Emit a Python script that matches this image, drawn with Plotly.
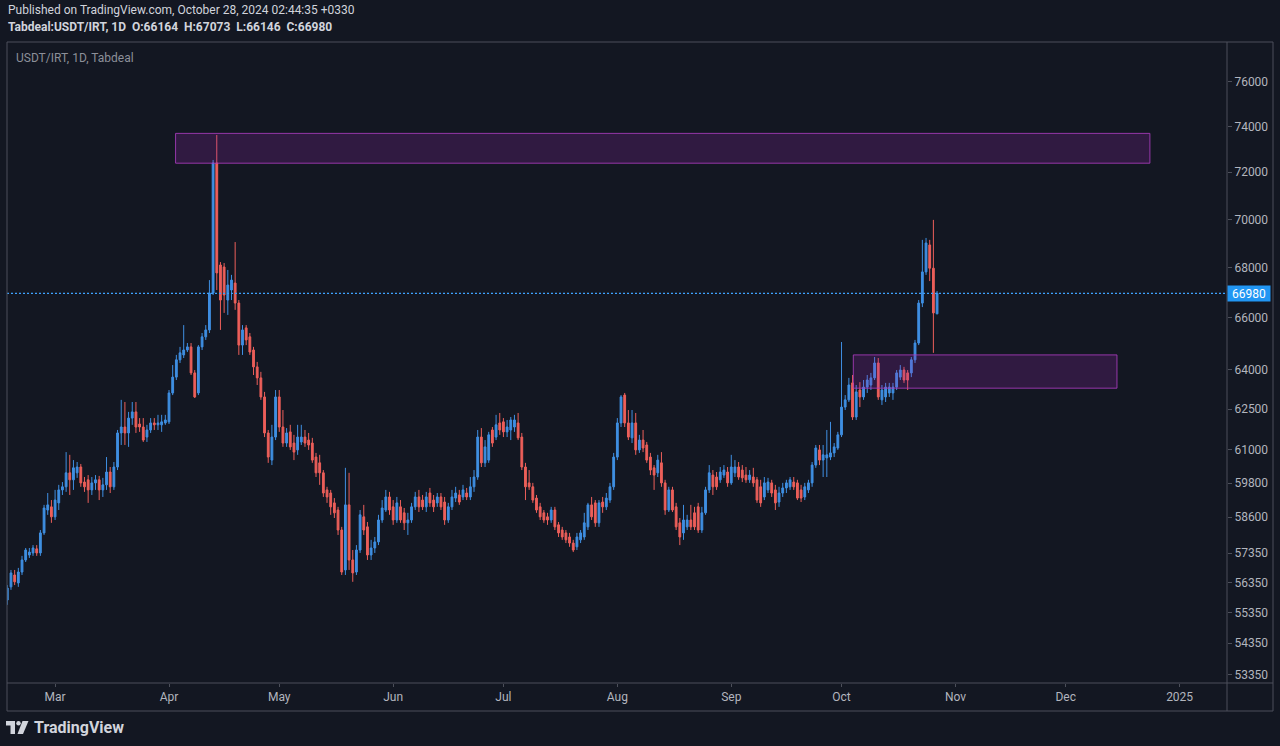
import math
import pandas as pd
import plotly.graph_objects as go

# ---------------- data (daily candles, Tabdeal USDT/IRT) ----------------
start_date = "2024-02-17"

opens = [
    55770, 56210, 56610, 56340, 56710, 57120, 57290, 57360, 57500, 57360,
    58050, 58850, 58960, 58610, 59100, 59560, 59670, 60170, 59920, 60170,
    60380, 59840, 59920, 59560, 59810, 59920, 59560, 59740, 60200, 59670,
    60380, 61620, 61840, 61620, 62170, 62400, 61950, 61840, 61470, 61730,
    61990, 61920, 61920, 61990, 62030, 63110, 63710, 64370, 64560, 64750,
    64870, 63870, 63110, 64870, 65260, 65530, 66990, 72400, 68120, 68040,
    66710, 67110, 67390, 66590, 64940, 65610, 65260, 64750, 64100, 63680,
    62960, 61620, 60630, 61470, 62960, 61840, 61250, 61660, 61250, 61000,
    61290, 61470, 61360, 61250, 60740, 60530, 60170, 59560, 59450, 59100,
    58850, 58150, 56780, 59030, 57120, 56710, 57460, 58610, 58260, 57290,
    57530, 57740, 58500, 58850, 59310, 58960, 58500, 58960, 58750, 58400,
    58500, 58960, 59310, 59200, 58960, 59450, 59200, 59100, 59310, 59130,
    58500, 58960, 59270, 59380, 59310, 59450, 59310, 59670, 60020, 61470,
    60530, 60630, 61730, 61470, 61990, 62030, 61660, 61730, 61840, 61990,
    61470, 60380, 59810, 59670, 59270, 58960, 58750, 58610, 58500, 58850,
    58330, 58150, 58050, 57910, 57700, 57570, 57810, 57910, 58260, 59030,
    59100, 58400, 59130, 58960, 59200, 59670, 60740, 61990, 63030, 61990,
    61440, 61990, 61000, 61360, 61180, 60740, 60350, 60170, 60530, 59810,
    58850, 59560, 58960, 58400, 58050, 58260, 58500, 58750, 58960, 58150,
    58750, 59560, 60090, 60020, 59920, 60090, 60200, 59810, 60170, 60380,
    60270, 60090, 59920, 60020, 59920, 59670, 59310, 59560, 59810, 59560,
    59130, 59450, 59630, 59670, 59840, 59810, 59560, 59310, 59560, 59810,
    60450, 61000, 60630, 60710, 60740, 60890, 61070, 61550, 62580, 62850,
    63490, 62210, 63220, 62960, 63330, 63410, 63680, 64250, 62850, 62960,
    63110, 63110, 63330, 63710, 63980, 63870, 63870, 64370, 65020, 66590,
    67840, 68940, 67990, 66164,
]

highs = [
    56270, 56780, 56780, 56850, 57260, 57530, 57530, 57630, 57630, 58150,
    59030, 59450, 59200, 59560, 59740, 59840, 60920, 60820, 60630, 60560,
    60490, 60020, 60090, 60020, 60090, 60060, 59990, 60740, 60380, 60560,
    61730, 62850, 62770, 62400, 62770, 62770, 62170, 62170, 61920, 62170,
    62170, 62290, 62290, 62290, 63220, 64170, 64560, 64870, 65720, 65020,
    65020, 63980, 64940, 65410, 65720, 67510, 72530, 73620, 68240, 68200,
    67920, 67720, 69060, 66710, 65720, 65720, 65410, 64870, 64290, 63910,
    63150, 61730, 61920, 63220, 63220, 62470, 61800, 61920, 61550, 61920,
    61920, 61730, 61620, 61440, 60890, 60820, 60270, 59670, 59560, 59270,
    58960, 58260, 60350, 60170, 57460, 57630, 58850, 59030, 58430, 57810,
    57910, 58680, 59200, 59560, 59490, 59200, 59310, 59200, 58920, 58750,
    59100, 59490, 59560, 59380, 59490, 59630, 59380, 59450, 59450, 59310,
    59100, 59560, 59670, 59560, 59740, 59630, 60020, 60270, 61730, 61800,
    61360, 61660, 61840, 62290, 62360, 62170, 62100, 62210, 62290, 62360,
    61620, 60530, 60270, 59810, 59380, 59100, 58850, 58750, 58960, 58960,
    58430, 58260, 58150, 58050, 57810, 58050, 58150, 58750, 59100, 59310,
    59200, 59200, 59310, 59450, 59810, 60890, 62170, 63030, 63110, 62470,
    62470, 62360, 61550, 61730, 61290, 60890, 60450, 60820, 60920, 59920,
    59670, 59670, 59100, 58570, 59030, 58680, 59030, 58960, 59100, 58960,
    59670, 60450, 60270, 60200, 60380, 60450, 60380, 60820, 60630, 60560,
    60450, 60380, 60270, 60350, 60020, 59920, 60020, 59990, 59920, 59740,
    59670, 59810, 59920, 60020, 60020, 59920, 59740, 59810, 59920, 60560,
    61180, 61180, 61180, 61730, 62030, 61250, 61660, 65060, 63030, 63680,
    63790, 63410, 63520, 63600, 63790, 63870, 64480, 64440, 63410, 63490,
    63490, 63490, 63980, 64170, 64100, 63980, 64480, 65140, 66710, 69150,
    69230, 69150, 69980, 67073,
]

lows = [
    55610, 56110, 56270, 56210, 56610, 57050, 57190, 57260, 57260, 57260,
    57980, 58680, 58400, 58500, 58850, 59380, 59490, 59380, 59560, 59990,
    59670, 59490, 59100, 59380, 59560, 59200, 59310, 59560, 59450, 59560,
    60270, 61180, 61180, 61110, 61920, 61620, 61660, 61290, 61290, 61620,
    61730, 61730, 61660, 61920, 61950, 63030, 63600, 64250, 64440, 64670,
    63790, 62920, 63030, 64750, 65140, 65410, 66910, 67110, 65530, 66200,
    66120, 66710, 66320, 64560, 64560, 64940, 64560, 63790, 63410, 62850,
    61470, 60530, 60450, 61360, 61660, 61110, 61110, 61000, 60630, 60820,
    61180, 61110, 61000, 60530, 60020, 59740, 59310, 59100, 58680, 58570,
    57980, 56610, 56610, 56780, 56380, 56610, 57360, 57980, 57120, 57120,
    57360, 57630, 58400, 58780, 58680, 58330, 58400, 58400, 58150, 57980,
    58400, 58850, 58780, 58850, 58780, 58960, 58780, 58960, 58850, 58330,
    58400, 58850, 59130, 59030, 59200, 59200, 59200, 59490, 59920, 60380,
    60380, 60530, 61110, 61360, 61550, 61470, 61470, 61360, 61660, 61360,
    60270, 59200, 59560, 59100, 58750, 58500, 58400, 58330, 58400, 58150,
    57910, 57810, 57700, 57570, 57390, 57460, 57700, 57810, 58150, 58500,
    58260, 58260, 58750, 58850, 59100, 59560, 60630, 61840, 61840, 61360,
    61250, 60820, 60890, 60920, 60530, 60090, 59560, 60020, 59670, 58680,
    58780, 58780, 58150, 57630, 57810, 58150, 58150, 58150, 58050, 58050,
    58680, 59450, 59380, 59560, 59810, 59990, 59670, 59740, 60020, 59920,
    59840, 59810, 59810, 59670, 59100, 58960, 59200, 59450, 59310, 58850,
    58960, 59310, 59450, 59560, 59560, 59200, 59130, 59200, 59450, 59670,
    60350, 60450, 60020, 60020, 60630, 60740, 61000, 61470, 62470, 62770,
    62100, 62100, 62580, 62850, 63110, 63220, 63600, 62850, 62660, 62770,
    62960, 62850, 63220, 63600, 63490, 63220, 63710, 64250, 64940, 66430,
    67720, 67470, 64640, 66146,
]

closes = [
    56170, 56680, 56380, 56710, 57120, 57460, 57390, 57530, 57360, 58050,
    58920, 59030, 58610, 59200, 59560, 59670, 60170, 59920, 60350, 60380,
    59810, 59670, 59560, 59810, 59920, 59560, 59740, 60200, 59670, 60380,
    61620, 61840, 61620, 62170, 62400, 61840, 61840, 61360, 61730, 61990,
    61920, 61990, 62030, 62100, 63110, 63710, 64370, 64640, 64750, 64870,
    63870, 62960, 64870, 65260, 65530, 66990, 72400, 67800, 66710, 66910,
    67310, 67510, 66590, 64940, 65530, 65140, 64670, 64100, 63680, 62960,
    61620, 60740, 61470, 62960, 61840, 61250, 61620, 61110, 60920, 61470,
    61470, 61250, 61180, 60630, 60170, 60170, 59450, 59310, 58960, 58750,
    58150, 56710, 59030, 57120, 56680, 57460, 58680, 58150, 57290, 57530,
    57740, 58500, 58920, 59310, 58850, 58500, 59100, 58500, 58400, 58500,
    58960, 59310, 58960, 58960, 59310, 59100, 58960, 59310, 58960, 58500,
    58960, 59310, 59450, 59130, 59560, 59310, 59670, 60020, 61470, 60530,
    61110, 61550, 61250, 61920, 61730, 61660, 61840, 62100, 62100, 61440,
    60380, 59670, 59670, 59200, 58850, 58610, 58500, 58500, 58850, 58260,
    58050, 57910, 57810, 57700, 57460, 57910, 58050, 58400, 59030, 58610,
    58400, 59100, 58960, 59270, 59670, 60740, 61990, 62960, 61990, 61470,
    61990, 61000, 61360, 61070, 60630, 60270, 60090, 60630, 59810, 58850,
    59560, 58850, 58260, 57910, 58500, 58500, 58260, 58260, 58150, 58750,
    59560, 60170, 59670, 59670, 60200, 60270, 59810, 60380, 60380, 60020,
    59990, 59920, 60090, 59810, 59200, 59100, 59810, 59840, 59450, 59100,
    59450, 59630, 59810, 59920, 59670, 59270, 59270, 59670, 59810, 60450,
    61070, 60630, 60820, 60820, 60890, 61110, 61550, 62580, 62850, 63410,
    62210, 63150, 62960, 63330, 63600, 63680, 64250, 62960, 63220, 63330,
    63330, 63330, 63870, 63980, 63600, 63600, 64370, 65020, 66590, 67840,
    69020, 67990, 66200, 66980,
]

last_price = 66980

# supply / demand zones drawn on the chart
zone_top = dict(x0="2024-04-02 19:00", x1="2024-12-23 22:00", y0=72390, y1=73690)
zone_low = dict(x0="2024-10-04 05:00", x1="2024-12-14 23:00", y0=63290, y1=64560)

price_ticks = [53350, 54350, 55350, 56350, 57350, 58600, 59800, 61000,
               62500, 64000, 66000, 68000, 70000, 72000, 74000, 76000]
month_ticks = ["2024-03-01", "2024-04-01", "2024-05-01", "2024-06-01",
               "2024-07-01", "2024-08-01", "2024-09-01", "2024-10-01",
               "2024-11-01", "2024-12-01", "2025-01-01"]
month_labels = ["Mar", "Apr", "May", "Jun", "Jul", "Aug", "Sep", "Oct",
                "Nov", "Dec", "2025"]

dates = pd.date_range(start_date, periods=len(closes), freq="D")

# ---------------- styling ----------------
BG = "#131722"
UP = "#3f8fe2"
DN = "#ec5f5a"
FRAME = "#4c4f5a"
TXT = "#b2b5be"
W, H = 1280, 746
ML, MR, MT, MB = 7, 53, 42, 63
PW, PH = W - ML - MR, H - MT - MB


def px(x):
    return (x - ML) / PW


def py(y):
    return (H - MB - y) / PH


fig = go.Figure(go.Candlestick(
    x=dates, open=opens, high=highs, low=lows, close=closes,
    increasing=dict(line=dict(color=UP, width=1), fillcolor=UP),
    decreasing=dict(line=dict(color=DN, width=1), fillcolor=DN),
    whiskerwidth=0, hoverinfo="skip", showlegend=False,
))

shapes = []
# last price dotted line
shapes.append(dict(type="line", xref="paper", yref="y", x0=0, x1=1,
                   y0=last_price, y1=last_price,
                   line=dict(color="#3da2ff", width=1.3, dash="2px,2px"), layer="above"))
for z in (zone_top, zone_low):
    shapes.append(dict(type="rect", xref="x", yref="y", x0=z["x0"], x1=z["x1"],
                       y0=z["y0"], y1=z["y1"], fillcolor="rgba(156,39,176,0.22)",
                       line=dict(color="rgba(170,60,190,0.85)", width=1), layer="above"))
# frame
right_edge = px(1273)
bottom_edge = py(711)
shapes.append(dict(type="rect", xref="paper", yref="paper", x0=0, x1=right_edge,
                   y0=bottom_edge, y1=1, line=dict(color=FRAME, width=1)))
shapes.append(dict(type="line", xref="paper", yref="paper", x0=0, x1=right_edge,
                   y0=0, y1=0, line=dict(color=FRAME, width=1)))
shapes.append(dict(type="line", xref="paper", yref="paper", x0=1, x1=1,
                   y0=bottom_edge, y1=1, line=dict(color=FRAME, width=1)))
# TradingView logo glyph
LOGO = "#d1d4dc"
shapes.append(dict(type="rect", xref="paper", yref="paper", x0=px(6), x1=px(15),
                   y0=py(725.5), y1=py(721), fillcolor=LOGO, line=dict(width=0)))
shapes.append(dict(type="rect", xref="paper", yref="paper", x0=px(10.5), x1=px(15),
                   y0=py(734), y1=py(721), fillcolor=LOGO, line=dict(width=0)))
shapes.append(dict(type="circle", xref="paper", yref="paper", x0=px(16.3), x1=px(20.7),
                   y0=py(725.4), y1=py(721), fillcolor=LOGO, line=dict(width=0)))
shapes.append(dict(type="path", xref="paper", yref="paper",
                   path=f"M {px(22.5)} {py(721)} L {px(28.5)} {py(721)} L {px(23)} {py(734)} "
                        f"L {px(17.5)} {py(734)} Z",
                   fillcolor=LOGO, line=dict(width=0)))

annotations = [
    dict(xref="paper", yref="paper", x=px(6), y=py(10), xanchor="left", yanchor="middle",
         text="Published on TradingView.com, October 28, 2024 02:44:35 +0330",
         showarrow=False, font=dict(size=12, color="#d1d4dc")),
    dict(xref="paper", yref="paper", x=px(6), y=py(27), xanchor="left", yanchor="middle",
         text="<b>Tabdeal:USDT/IRT, 1D  O:66164  H:67073  L:66146  C:66980</b>",
         showarrow=False, font=dict(size=12, color="#d1d4dc")),
    dict(xref="paper", yref="paper", x=px(14), y=py(58), xanchor="left", yanchor="middle",
         text="USDT/IRT, 1D, Tabdeal", showarrow=False,
         font=dict(size=12, color="#8c8f99")),
    dict(xref="paper", yref="paper", x=px(32), y=py(727.5), xanchor="left", yanchor="middle",
         text="<b>TradingView</b>", showarrow=False, font=dict(size=16, color=LOGO)),
    dict(xref="paper", yref="y", x=1, y=math.log10(last_price), xanchor="left",
         yanchor="middle", text=str(last_price), showarrow=False, bgcolor="#2196f3",
         font=dict(size=12, color="#ffffff"), width=42, height=15, borderpad=0),
]

fig.update_layout(
    width=W, height=H, autosize=False,
    margin=dict(l=ML, r=MR, t=MT, b=MB),
    paper_bgcolor=BG, plot_bgcolor=BG,
    font=dict(family="Roboto, Liberation Sans, sans-serif", color=TXT, size=12),
    shapes=shapes, annotations=annotations, hovermode=False,
    xaxis=dict(
        type="date", rangeslider=dict(visible=False),
        range=["2024-02-16 22:00", "2025-01-13 21:30"],
        tickvals=month_ticks, ticktext=month_labels,
        showgrid=False, zeroline=False, showline=False,
        ticks="outside", ticklen=3, tickcolor=FRAME,
        tickfont=dict(size=12, color=TXT),
    ),
    yaxis=dict(
        type="log", side="right",
        range=[math.log10(53074), math.log10(77823)],
        tickvals=price_ticks, ticktext=[str(v) for v in price_ticks],
        showgrid=False, zeroline=False, showline=False,
        ticks="outside", ticklen=4, tickcolor=FRAME,
        tickfont=dict(size=12, color=TXT),
    ),
)

fig.write_html("out.html", config={"displayModeBar": False, "staticPlot": True},
               post_script="document.body.style.margin='0';document.body.style.overflow='hidden';")
